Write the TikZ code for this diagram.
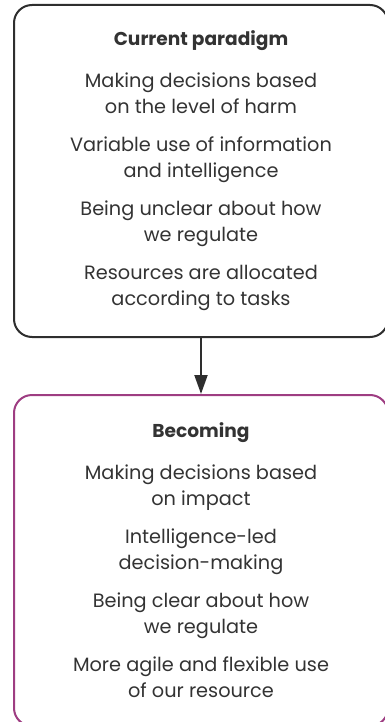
\documentclass[tikz,border=0pt]{standalone}
\usepackage{fontspec}
\setmainfont{Poppins}
\usetikzlibrary{positioning,arrows.meta}
\definecolor{inkgrey}{HTML}{2E2E2E}
\definecolor{textgrey}{HTML}{333333}
\definecolor{plum}{HTML}{9E3D82}
\newcommand{\stagetitle}[1]{{\fontsize{18.6}{26.5}\selectfont\bfseries #1}}
\tikzset{
  stagebox/.style={draw, line width=2pt, rounded corners=18pt, align=center,
    minimum width=374pt, text=textgrey, inner sep=0pt,
    font=\fontsize{19.3}{26.5}\selectfont},
}
\begin{document}
\begin{tikzpicture}[x=1pt,y=-1pt]
	\useasboundingbox (0,0) rectangle (385,722);
	\node[stagebox, draw=inkgrey, minimum height=332pt] (current) at (201,171)
		{\stagetitle{Current paradigm}\\[15pt]
		Making decisions based\\ on the level of harm\\[11pt]
		Variable use of information\\ and intelligence\\[11pt]
		Being unclear about how\\ we regulate\\[11pt]
		Resources are allocated\\ according to tasks};
	\node[stagebox, draw=plum, minimum height=331pt, below=56pt of current] (becoming)
		{\stagetitle{Becoming}\\[15pt]
		Making decisions based\\ on impact\\[11pt]
		Intelligence-led\\ decision-making\\[11pt]
		Being clear about how\\ we regulate\\[11pt]
		More agile and flexible use\\ of our resource};
	\draw[-{Triangle[width=13pt,length=19pt]}, line width=2pt, color=inkgrey] (current.south) -- (becoming.north);
\end{tikzpicture}
\end{document}
